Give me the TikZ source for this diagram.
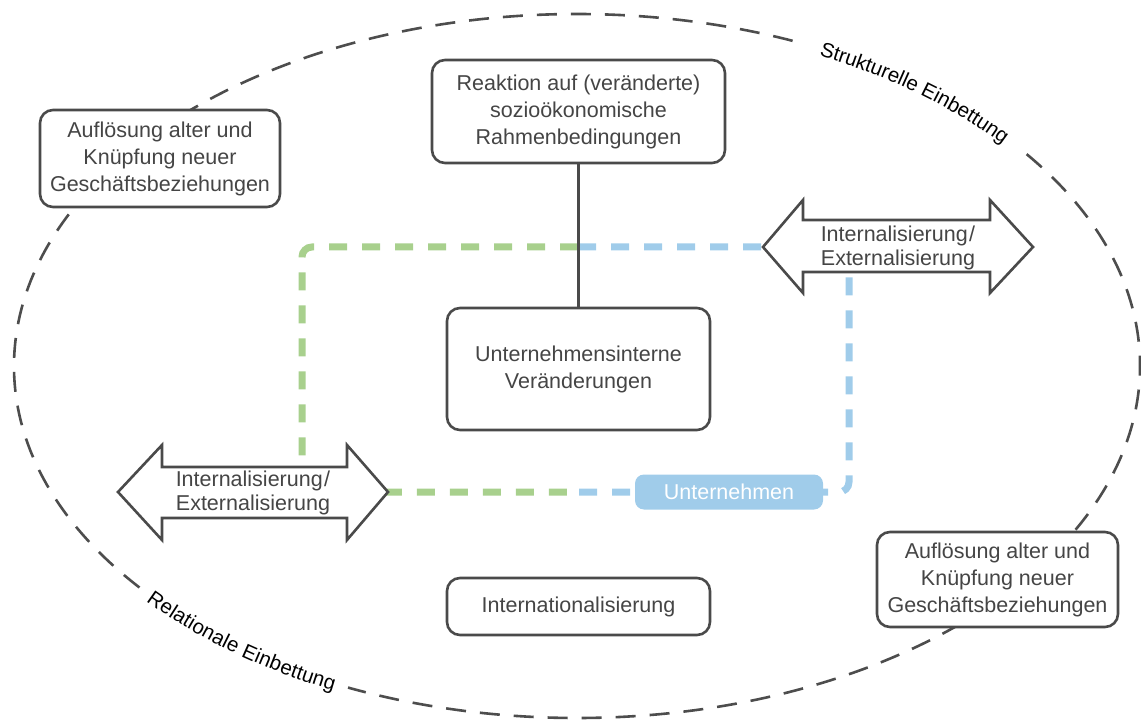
\documentclass[tikz,border=0pt]{standalone}
\usepackage{fontspec}
\setmainfont{Liberation Sans}
\usetikzlibrary{calc,decorations.text}

\definecolor{ink}{HTML}{454545}
\definecolor{frame}{HTML}{4A4A4A}
\definecolor{ringgray}{HTML}{4D4D4D}
\definecolor{firmgreen}{RGB}{168,208,141}
\definecolor{firmblue}{RGB}{160,204,234}

\tikzset{
  box/.style={draw=frame, line width=2.6pt, fill=white, rounded corners=13pt,
    align=center, text=ink, font=\fontsize{21.5}{27}\selectfont, inner sep=0pt},
  ring/.style={draw=ringgray, line width=2.6pt, dash pattern=on 20pt off 14pt},
  firmline/.style={line width=7pt, dash pattern=on 18pt off 15pt, rounded corners=10pt},
  arrowshape/.style={draw=frame, line width=2.6pt, fill=white, line join=miter},
  arrowtext/.style={text=ink, align=center, font=\fontsize{21.5}{23.5}\selectfont, inner sep=0pt},
  firmlabel/.style={fill=firmblue, rounded corners=9pt, text=white, inner sep=0pt,
    font=\fontsize{21.5}{25}\selectfont},
  link/.style={draw=frame, line width=2.6pt},
  ringlabel/.style={decorate, decoration={text along path, text align=center, raise=-7pt,
    text={|\fontsize{20.5}{24}\selectfont|#1}}},
}

\begin{document}
\begin{tikzpicture}[x=1pt, y=-1pt]
\useasboundingbox (0,0) rectangle (1141,722);

% embedding ring, broken where its two labels sit
\coordinate (ringC) at (577,366);
\draw[ring] ($(ringC)+(-37:563 and 352)$)
  arc[start angle=-37, end angle=114, x radius=563, y radius=352];
\draw[ring] ($(ringC)+(141:563 and 352)$)
  arc[start angle=141, end angle=293, x radius=563, y radius=352];
\path[ringlabel={Strukturelle Einbettung}]
  ($(ringC)+(-67:563 and 352)$) arc[start angle=-67, end angle=-37, x radius=563, y radius=352];
\path[ringlabel={Relationale Einbettung}]
  ($(ringC)+(141:563 and 352)$) arc[start angle=141, end angle=114, x radius=563, y radius=352];

% company frame (green and blue halves)
\draw[firmline, draw=firmgreen] (578,247) -- (302,247) -- (302,492) -- (578,492);
\draw[firmline, draw=firmblue] (578,247) -- (849,247) -- (849,492) -- (578,492);

% double arrows
\draw[arrowshape] (118,492) -- (162,445) -- (162,467) -- (347,467) -- (347,445) -- (388,492)
  -- (347,540) -- (347,518) -- (162,518) -- (162,540) -- cycle;
\node[arrowtext] (exchL) at (253,493) {Internalisierung\kern1.5pt/\\Externalisierung};

\draw[arrowshape] (763,247) -- (803,200) -- (803,220) -- (990,220) -- (990,200) -- (1033,247)
  -- (990,293) -- (990,272) -- (803,272) -- (803,293) -- cycle;
\node[arrowtext] (exchR) at (898,248) {Internalisierung\kern1.5pt/\\Externalisierung};

% boxes
\node[box, minimum width=240pt, minimum height=97pt] (relTL) at (160,158.5)
  {Auflösung alter und\\Knüpfung neuer\\Geschäftsbeziehungen};
\node[box, minimum width=293pt, minimum height=103pt] (react) at (578.5,111.5)
  {Reaktion auf (veränderte)\\sozioökonomische\\Rahmenbedingungen};
\node[box, minimum width=263pt, minimum height=122pt] (inner) at (578.5,369)
  {Unternehmensinterne\\Veränderungen};
\node[box, minimum width=263pt, minimum height=57pt] (intl) at (578.5,606.5)
  {Internationalisierung};
\node[box, minimum width=241pt, minimum height=95pt] (relBR) at (997.5,579.5)
  {Auflösung alter und\\Knüpfung neuer\\Geschäftsbeziehungen};

\draw[link] (react.south) -- (inner.north);

\node[firmlabel, minimum width=188pt, minimum height=35pt] (firm) at (729,492) {Unternehmen};
\end{tikzpicture}
\end{document}
